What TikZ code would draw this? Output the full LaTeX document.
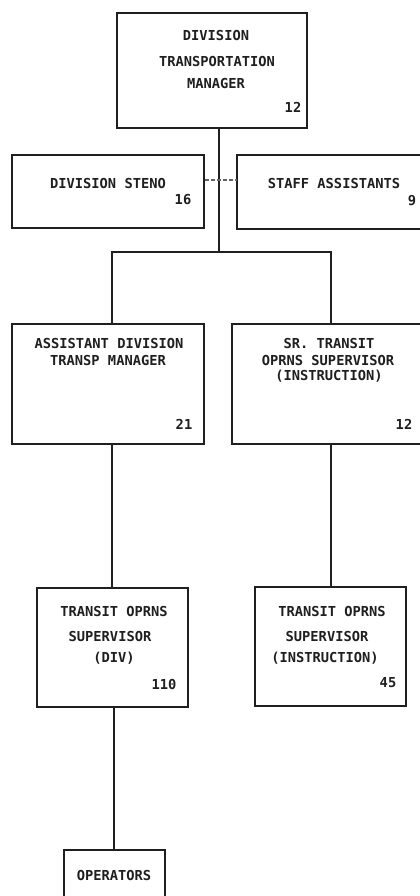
\documentclass[tikz,border=0pt]{standalone}
\usepackage{fontspec}
\newfontfamily\orgfont{DejaVu Sans Mono}
\usetikzlibrary{fit}
\definecolor{ink}{gray}{0.12}
\tikzset{
  every picture/.style={x=0.75pt,y=-0.75pt},
  boxdraw/.style={draw=ink,line width=1.3pt,inner sep=0pt},
  boxopen/.style={inner sep=0pt},
  edgeline/.style={draw=ink,line width=1.3pt},
  conn/.style={draw=ink,line width=1.3pt},
  dashconn/.style={draw=ink!70,line width=0.8pt,dash pattern=on 3pt off 1.5pt},
  txt/.style={inner sep=0pt,text=ink,font=\orgfont\bfseries\fontsize{10.3}{12}\selectfont},
}
\begin{document}
\begin{tikzpicture}
\useasboundingbox[fill=white] (0,0) rectangle (420,896);

% boxes
\node[boxdraw, fit={(117,13)(307,128)}] (top) {};
\node[boxdraw, fit={(12,155)(204,228)}] (steno) {};
\node[boxopen, fit={(237,155)(420,229)}] (staff) {};
\draw[edgeline] (staff.north east) -- (staff.north west) -- (staff.south west) -- (staff.south east);
\node[boxdraw, fit={(12,324)(204,444)}] (asst) {};
\node[boxopen, fit={(232,324)(420,444)}] (sr) {};
\draw[edgeline] (sr.north east) -- (sr.north west) -- (sr.south west) -- (sr.south east);
\node[boxdraw, fit={(37,588)(188,707)}] (tos) {};
\node[boxdraw, fit={(255,587)(406,706)}] (tis) {};
\node[boxopen, fit={(64,850)(165,896)}] (ops) {};
\draw[edgeline] (ops.south west) -- (ops.north west) -- (ops.north east) -- (ops.south east);

% texts
\node[txt] (t1a) at (216,35) {DIVISION};
\node[txt] (t1b) at (217,61) {TRANSPORTATION};
\node[txt] (t1c) at (216,83) {MANAGER};
\node[txt] (t1n) at (293,107) {12};

\node[txt] (t2a) at (108,183) {DIVISION STENO};
\node[txt] (t2n) at (183,200) {16};

\node[txt] (t3a) at (334,183) {STAFF ASSISTANTS};
\node[txt] (t3n) at (412,201) {9};

\node[txt] (t4a) at (109,343) {ASSISTANT DIVISION};
\node[txt] (t4b) at (108,360) {TRANSP MANAGER};
\node[txt] (t4n) at (184,424) {21};

\node[txt] (t5a) at (329,343) {SR. TRANSIT};
\node[txt] (t5b) at (328,360) {OPRNS SUPERVISOR};
\node[txt] (t5c) at (329,376) {(INSTRUCTION)};
\node[txt] (t5n) at (404,424) {12};

\node[txt] (t6a) at (114,611) {TRANSIT OPRNS};
\node[txt] (t6b) at (110,636) {SUPERVISOR};
\node[txt] (t6c) at (114,658) {(DIV)};
\node[txt] (t6n) at (164,684) {110};

\node[txt] (t7a) at (332,611) {TRANSIT OPRNS};
\node[txt] (t7b) at (327,636) {SUPERVISOR};
\node[txt] (t7c) at (325,658) {(INSTRUCTION)};
\node[txt] (t7n) at (388,683) {45};

\node[txt] (t8a) at (114,875) {OPERATORS};

% connectors
\coordinate (jc) at (219,252);
\coordinate (jl) at (112,252);
\coordinate (jr) at (331,252);
\coordinate (dl) at (219,180);
\coordinate (jb) at (114,780);

\draw[conn] (top.south -| jc) -- (jc);
\draw[conn] (asst.north -| jl) -- (jl) -- (jr) -- (sr.north -| jr);
\draw[dashconn] (steno.east |- dl) -- (staff.west |- dl);
\draw[conn] (asst.south -| jl) -- (tos.north -| jl);
\draw[conn] (sr.south -| jr) -- (tis.north -| jr);
\draw[conn] (tos.south -| jb) -- (ops.north -| jb);
\end{tikzpicture}
\end{document}
